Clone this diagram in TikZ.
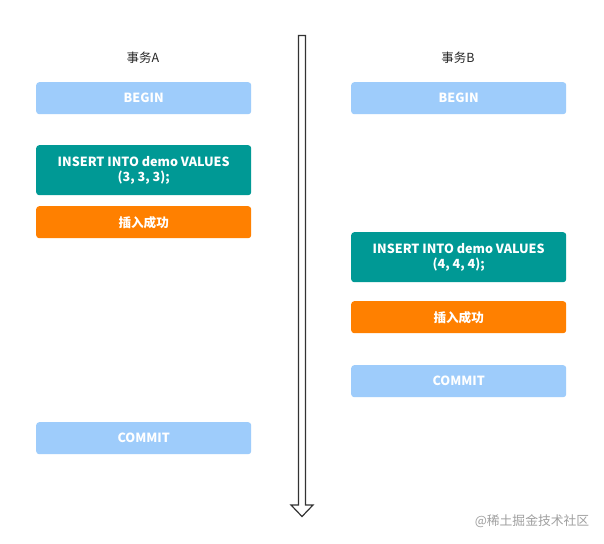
\documentclass[tikz,border=0pt]{standalone}
\usepackage{fontspec}
\setmainfont{Noto Sans CJK SC}
\definecolor{lblue}{HTML}{9ECCFB}
\definecolor{teal2}{HTML}{009995}
\definecolor{orng}{HTML}{FF8000}
\definecolor{wm}{HTML}{A0A0A0}
\begin{document}
\begin{tikzpicture}[x=1pt,y=-1pt,
  box/.style={rounded corners=3pt, minimum width=215pt, inner sep=0pt, text=white, font=\fontsize{12.6}{15}\selectfont\bfseries, align=center, anchor=north west},
  beginbox/.style={box, fill=lblue, minimum height=32pt},
  insbox/.style={box, fill=teal2, minimum height=50pt},
  okbox/.style={box, fill=orng, minimum height=32pt},
  title/.style={font=\fontsize{12.5}{14}\selectfont, text=black!85}]
\useasboundingbox (0,0) rectangle (604,543);
\fill[white] (0,0) rectangle (604,543);
% time arrow
\draw[black!80, line width=1.2pt, fill=white, line join=miter]
  (298.5,35.5) -- (305.5,35.5) -- (305.5,505) -- (313,505) -- (302,516.5) -- (291,505) -- (298.5,505) -- cycle;
\node[title] (ta) at (143,58) {事务A};
\node[title] (tb) at (458,58) {事务B};
\node[beginbox] (a1) at (36,82) {BEGIN};
\node[insbox] (a2) at (36,145) {INSERT INTO demo VALUES\\(3, 3, 3);};
\node[okbox] (a3) at (36,206) {插入成功};
\node[beginbox] (a4) at (36,422) {COMMIT};
\node[beginbox] (b1) at (351,82) {BEGIN};
\node[insbox] (b2) at (351,232) {INSERT INTO demo VALUES\\(4, 4, 4);};
\node[okbox] (b3) at (351,301) {插入成功};
\node[beginbox] (b4) at (351,365) {COMMIT};
\node[font=\fontsize{12.8}{15}\selectfont, text=wm] (wmk) at (532,521) {@稀土掘金技术社区};
\end{tikzpicture}
\end{document}
